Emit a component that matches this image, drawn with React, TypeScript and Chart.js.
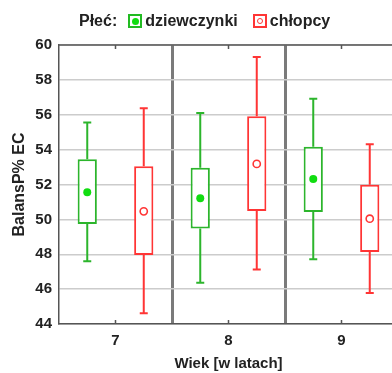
import React, { useEffect, useRef } from "react";
import { Chart, registerables } from "chart.js";

Chart.register(...registerables);

const categories = ["7", "8", "9"];
const girlsWhiskerLow = [47.6, 46.37, 47.71];
const girlsBoxLow = [49.74, 49.47, 50.42];
const girlsMean = [51.55, 51.21, 52.32];
const girlsBoxHigh = [53.45, 52.96, 54.17];
const girlsWhiskerHigh = [55.55, 56.1, 56.92];
const boysWhiskerLow = [44.62, 47.12, 45.78];
const boysBoxLow = [47.96, 50.48, 48.13];
const boysMean = [50.46, 53.18, 50.04];
const boysBoxHigh = [53.04, 55.91, 51.99];
const boysWhiskerHigh = [56.37, 59.31, 54.31];
const yMin = 44;
const yMax = 60;
const yStep = 2;

const GREEN = "#2cb52c";
const GREEN_DOT = "#11dd11";
const RED = "#ff3535";
const FONT = "'Liberation Sans', Arial, sans-serif";

const boxPlugin = {
  id: "boxWhiskers",
  afterDatasetsDraw(chart: any) {
    const ctx = chart.ctx;
    const y = chart.scales.y;
    const x = chart.scales.x;
    const area = chart.chartArea;
    chart.data.datasets.forEach((ds: any, di: number) => {
      const meta = chart.getDatasetMeta(di);
      meta.data.forEach((bar: any, i: number) => {
        const cx = bar.x;
        const yWh = y.getPixelForValue(ds.whiskerHigh[i]);
        const yBh = y.getPixelForValue(ds.boxHigh[i]);
        const yBl = y.getPixelForValue(ds.boxLow[i]);
        const yWl = y.getPixelForValue(ds.whiskerLow[i]);
        const yM = y.getPixelForValue(ds.mean[i]);
        ctx.save();
        ctx.strokeStyle = ds.borderColor;
        ctx.lineWidth = 2;
        ctx.beginPath();
        ctx.moveTo(cx, yWh);
        ctx.lineTo(cx, yBh);
        ctx.moveTo(cx, yBl);
        ctx.lineTo(cx, yWl);
        ctx.moveTo(cx - 4, yWh);
        ctx.lineTo(cx + 4, yWh);
        ctx.moveTo(cx - 4, yWl);
        ctx.lineTo(cx + 4, yWl);
        ctx.stroke();
        ctx.beginPath();
        if (ds.meanFilled) {
          ctx.fillStyle = ds.meanColor;
          ctx.arc(cx, yM, 4, 0, Math.PI * 2);
          ctx.fill();
        } else {
          ctx.lineWidth = 1.6;
          ctx.strokeStyle = ds.meanColor;
          ctx.arc(cx, yM, 3.6, 0, Math.PI * 2);
          ctx.stroke();
        }
        ctx.restore();
      });
    });
    // top border and inward tick marks
    ctx.save();
    ctx.strokeStyle = "#555";
    ctx.lineWidth = 1.5;
    ctx.beginPath();
    ctx.moveTo(area.left, area.top);
    ctx.lineTo(area.right, area.top);
    categories.forEach((_, i) => {
      const px = x.getPixelForValue(i);
      ctx.moveTo(px, area.top);
      ctx.lineTo(px, area.top + 4);
      ctx.moveTo(px, area.bottom);
      ctx.lineTo(px, area.bottom - 4);
    });
    ctx.stroke();
    ctx.restore();
  },
};

export default function App() {
  const ref = useRef<HTMLCanvasElement>(null);
  useEffect(() => {
    if (!ref.current) return;
    const chart = new Chart(ref.current, {
      type: "bar",
      data: {
        labels: categories,
        datasets: [
          {
            label: "dziewczynki",
            data: categories.map((_, i) => [girlsBoxLow[i], girlsBoxHigh[i]]),
            backgroundColor: "#ffffff",
            borderColor: GREEN,
            borderWidth: 2,
            borderSkipped: false,
            categoryPercentage: 1.0,
            barPercentage: 0.34,
            whiskerLow: girlsWhiskerLow,
            whiskerHigh: girlsWhiskerHigh,
            boxLow: girlsBoxLow,
            boxHigh: girlsBoxHigh,
            mean: girlsMean,
            meanFilled: true,
            meanColor: GREEN_DOT,
          } as any,
          {
            label: "chłopcy",
            data: categories.map((_, i) => [boysBoxLow[i], boysBoxHigh[i]]),
            backgroundColor: "#ffffff",
            borderColor: RED,
            borderWidth: 2,
            borderSkipped: false,
            categoryPercentage: 1.0,
            barPercentage: 0.34,
            whiskerLow: boysWhiskerLow,
            whiskerHigh: boysWhiskerHigh,
            boxLow: boysBoxLow,
            boxHigh: boysBoxHigh,
            mean: boysMean,
            meanFilled: false,
            meanColor: RED,
          } as any,
        ],
      },
      options: {
        animation: false,
        responsive: false,
        layout: { padding: { top: 45, right: 2, left: 0, bottom: 0 } },
        plugins: {
          legend: { display: false },
          tooltip: { enabled: false },
        },
        scales: {
          x: {
            z: 0,
            offset: true,
            afterFit: (s: any) => {
              s.height = 49;
            },
            grid: {
              offset: true,
              drawTicks: false,
              color: "#7a7a7a",
              lineWidth: (c: any) => (c.index === 0 ? 0 : 3),
            },
            border: { display: true, color: "#555", width: 1.5 },
            ticks: {
              padding: 8,
              color: "#222",
              font: { family: FONT, size: 15, weight: "bold" },
            },
            title: {
              display: true,
              text: "Wiek [w latach]",
              color: "#222",
              padding: { top: 0, bottom: 0 },
              font: { family: FONT, size: 15, weight: "bold" },
            },
          },
          y: {
            z: -1,
            min: yMin,
            max: yMax,
            afterFit: (s: any) => {
              s.width = 59;
            },
            grid: {
              drawTicks: false,
              color: "#cccccc",
              lineWidth: 1.5,
            },
            border: { display: true, color: "#555", width: 1.5 },
            ticks: {
              stepSize: yStep,
              padding: 7,
              color: "#222",
              font: { family: FONT, size: 15, weight: "bold" },
            },
            title: {
              display: true,
              text: "BalansP% EC",
              color: "#222",
              padding: { top: 10, bottom: 0 },
              font: { family: FONT, size: 16, weight: "bold" },
            },
          },
        },
      },
      plugins: [boxPlugin],
    });
    return () => chart.destroy();
  }, []);

  const iconBase: React.CSSProperties = {
    width: 10,
    height: 10,
    borderWidth: 2,
    borderStyle: "solid",
    display: "inline-flex",
    alignItems: "center",
    justifyContent: "center",
    boxSizing: "content-box",
  };

  return (
    <div
      style={{
        position: "fixed",
        left: 0,
        top: 0,
        width: 392,
        height: 373,
        overflow: "hidden",
        background: "#fff",
      }}
    >
      <div style={{ position: "relative", width: 400, height: 373 }}>
        <canvas ref={ref} width={400} height={373} style={{ display: "block" }} />
        <div
          style={{
            position: "absolute",
            left: 79,
            top: 12,
            display: "flex",
            alignItems: "center",
            fontFamily: FONT,
            fontWeight: "bold",
            fontSize: 16,
            color: "#222",
            whiteSpace: "nowrap",
            lineHeight: "18px",
          }}
        >
          <span>Płeć:</span>
          <span style={{ ...iconBase, borderColor: "#22bb22", marginLeft: 11, marginRight: 3 }}>
            <span style={{ width: 7, height: 7, borderRadius: "50%", background: GREEN_DOT }} />
          </span>
          <span>dziewczynki</span>
          <span style={{ ...iconBase, borderColor: RED, marginLeft: 15, marginRight: 3 }}>
            <span
              style={{
                width: 4,
                height: 4,
                borderRadius: "50%",
                border: `1.5px solid ${RED}`,
              }}
            />
          </span>
          <span>chłopcy</span>
        </div>
      </div>
    </div>
  );
}
